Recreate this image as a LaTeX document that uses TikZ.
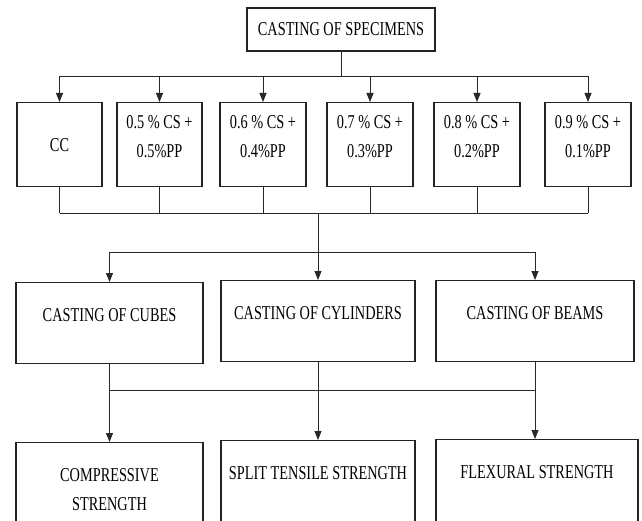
\documentclass[tikz,border=0pt]{standalone}
\usepackage{fontspec}
\setmainfont{Liberation Serif}[FakeStretch=0.73]
\usetikzlibrary{arrows.meta}
\definecolor{boxborder}{RGB}{35,35,35}
\definecolor{linkgray}{RGB}{40,40,40}
\tikzset{
  box/.style={rectangle, draw=boxborder, line width=1.1pt, fill=white, anchor=north, align=flush center,
              inner xsep=0pt, inner ysep=26pt, text height=13pt, font=\fontsize{19.6pt}{28.5pt}\selectfont},
  mixbox/.style={box, text width=#1, inner ysep=13pt, text depth=45pt},
  castbox/.style={box, text width=#1, text depth=16pt},
  testbox/.style={box, text width=#1, text depth=40pt},
  link/.style={line width=0.8pt, draw=linkgray},
  arr/.style={link, -{Triangle[length=9pt, width=7pt]}}
}

\begin{document}
\begin{tikzpicture}[x=1pt, y=-1pt]
\useasboundingbox (0,0) rectangle (642,521);
\clip (0,0) rectangle (642,521);
\node[box, anchor=center, inner ysep=0pt, minimum width=188pt, minimum height=43pt] (spec) at (341,29.5) {CASTING OF SPECIMENS};
\node[mixbox=85pt, inner ysep=35.5pt, text depth=0pt] (cc) at (59.5,102) {CC};
\node[mixbox=85pt] (p5) at (159.5,102) {0.5 \% CS +\\ 0.5\%PP};
\node[mixbox=86pt] (p6) at (263,102) {0.6 \% CS +\\ 0.4\%PP};
\node[mixbox=86pt] (p7) at (370,102) {0.7 \% CS +\\ 0.3\%PP};
\node[mixbox=86pt] (p8) at (477,102) {0.8 \% CS +\\ 0.2\%PP};
\node[mixbox=86pt] (p9) at (588,102) {0.9 \% CS +\\ 0.1\%PP};
\node[castbox=187pt] (cubes) at (109.5,282) {CASTING OF CUBES};
\node[castbox=194pt] (cyl) at (318,280) {CASTING OF CYLINDERS};
\node[castbox=198pt] (beams) at (535,280) {CASTING OF BEAMS};
\node[testbox=187pt] (comp) at (109.5,442) {COMPRESSIVE\\ STRENGTH};
\node[testbox=194pt] (split) at (318,440) {SPLIT TENSILE STRENGTH};
\node[testbox=202pt] (flex) at (537,439) {FLEXURAL STRENGTH};
\coordinate (bus1) at (0,76);
\coordinate (bus2) at (0,213);
\coordinate (bus3) at (0,252);
\coordinate (bus4) at (0,390);
\draw[link] (spec.south) -- (spec.south |- bus1);
\draw[link] (cc.north |- bus1) -- (p9.north |- bus1);
\foreach \n in {cc,p5,p6,p7,p8,p9} \draw[arr] (\n.north |- bus1) -- (\n.north);
\foreach \n in {cc,p5,p6,p7,p8,p9} \draw[link] (\n.south) -- (\n.south |- bus2);
\draw[link] (cc.south |- bus2) -- (p9.south |- bus2);
\draw[link] (cyl.north |- bus2) -- (cyl.north |- bus3);
\draw[link] (cubes.north |- bus3) -- (beams.north |- bus3);
\foreach \n in {cubes,cyl,beams} \draw[arr] (\n.north |- bus3) -- (\n.north);
\draw[link] (cubes.south) -- (cubes.south |- bus4) -- (beams.south |- bus4);
\draw[arr] (cubes.south) -- (comp.north);
\draw[arr] (cyl.south) -- (split.north);
\draw[arr] (beams.south) -- (beams.south |- flex.north);
\end{tikzpicture}
\end{document}
